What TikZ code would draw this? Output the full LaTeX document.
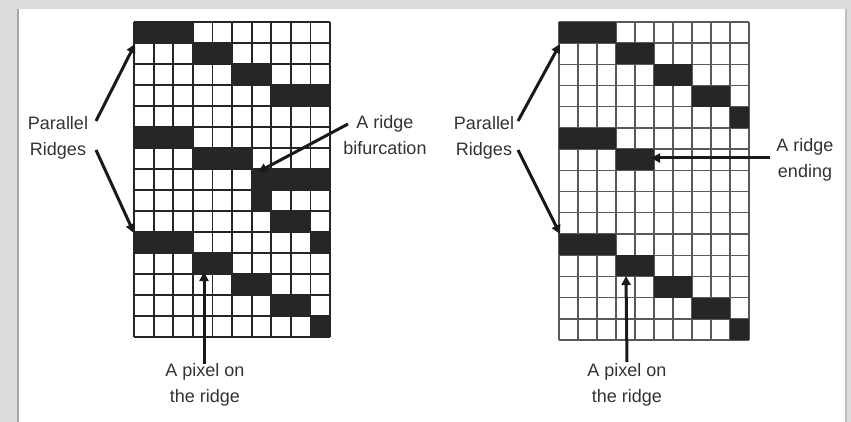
\documentclass[tikz,border=0pt]{standalone}
\usepackage{fontspec}
\setmainfont{Liberation Sans}
\usetikzlibrary{arrows.meta}
\begin{document}
\begin{tikzpicture}[x=1pt,y=-1pt,
  lbl/.style={font=\fontsize{18}{26}\selectfont, align=center, text=black!80, inner sep=0pt},
  ptr/.style={line width=3pt, -{Triangle[length=9pt,width=9pt]}, draw=black!90},
  cellfill/.style={fill=black!85},
  gridl/.style={draw=black!85, line width=1.8pt},
  gridr/.style={draw=black!65, line width=1.4pt}]
\fill[black!14] (0,0) rectangle (851,422);
\useasboundingbox (0,0) rectangle (851,422);
\fill[white] (18,9) rectangle (846,422);
\draw[black!35, line width=2pt] (18,9) -- (18,422);
\draw[black!25, line width=2pt] (846,9) -- (846,422);
% left grid
\foreach \i in {0,...,10} \draw[gridl] (134+\i*19.6,22) -- (134+\i*19.6,337);
\foreach \j in {0,...,15} \draw[gridl] (134,22+\j*21) -- (330,22+\j*21);
\foreach \r/\a/\b in {0/0/2,1/3/4,2/5/6,3/7/9,5/0/2,6/3/5,7/6/9,8/6/6,9/7/8,10/0/2,10/9/9,11/3/4,12/5/6,13/7/8,14/9/9}
  \fill[cellfill] (134+\a*19.6, 22+\r*21) rectangle (134+\b*19.6+19.6, 22+\r*21+21);
% right grid
\foreach \i in {0,...,10} \draw[gridr] (559+\i*19,22) -- (559+\i*19,340);
\foreach \j in {0,...,15} \draw[gridr] (559,22+\j*21.2) -- (749,22+\j*21.2);
\foreach \r/\a/\b in {0/0/2,1/3/4,2/5/6,3/7/8,4/9/9,5/0/2,6/3/4,10/0/2,11/3/4,12/5/6,13/7/8,14/9/9}
  \fill[cellfill] (559+\a*19, 22+\r*21.2) rectangle (559+\b*19+19, 22+\r*21.2+21.2);
% labels
\node[lbl] (lpar) at (58,138) {Parallel\\Ridges};
\node[lbl] (lbif) at (385,135) {A ridge\\bifurcation};
\node[lbl] (lpix) at (205,385) {A pixel on\\the ridge};
\node[lbl] (rpar) at (484,138) {Parallel\\Ridges};
\node[lbl] (rend) at (805,160) {A ridge\\ending};
\node[lbl] (rpix) at (627,385) {A pixel on\\the ridge};
% arrow ends
\coordinate (ls1) at (96,121);  \coordinate (lt1) at (135,44);
\coordinate (ls2) at (96,150);  \coordinate (lt2) at (134,233);
\coordinate (bs) at (348,124);  \coordinate (bt) at (258,172);
\coordinate (ps) at (204,364);  \coordinate (pt) at (204,272);
\coordinate (rs1) at (518,121); \coordinate (rt1) at (560,44);
\coordinate (rs2) at (518,150); \coordinate (rt2) at (560,234);
\coordinate (es) at (770,158);  \coordinate (et) at (651,158);
\coordinate (qs) at (627,362);  \coordinate (qt) at (626,276);
\draw[ptr] (ls1) -- (lt1);
\draw[ptr] (ls2) -- (lt2);
\draw[ptr] (bs) -- (bt);
\draw[ptr] (ps) -- (pt);
\draw[ptr] (rs1) -- (rt1);
\draw[ptr] (rs2) -- (rt2);
\draw[ptr] (es) -- (et);
\draw[ptr] (qs) -- (qt);
\end{tikzpicture}
\end{document}
